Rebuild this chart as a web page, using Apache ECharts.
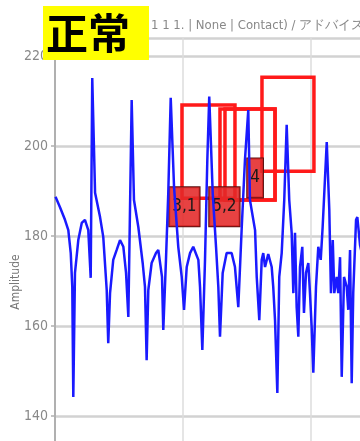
<!DOCTYPE html>
<html>
<head>
<meta charset="utf-8">
<script src="https://cdn.jsdelivr.net/npm/echarts@6/dist/echarts.min.js"></script>
<style>
html,body{margin:0;padding:0;background:#fff;}
#c{width:360px;height:441px;}
</style>
</head>
<body>
<div id="c"></div>
<script>
// signal samples (time in s, amplitude)
const sigX = [0.004,0.039,0.078,0.104,0.123,0.135,0.143,0.156,0.182,0.209,0.234,0.260,0.279,0.291,0.313,0.352,0.377,0.404,0.416,0.430,0.455,0.482,0.508,0.534,0.555,0.573,0.599,0.617,0.651,0.685,0.703,0.716,0.729,0.755,0.789,0.807,0.836,0.846,0.867,0.885,0.904,0.930,0.963,0.990,1.008,1.029,1.055,1.080,1.120,1.133,1.151,1.172,1.190,1.205,1.232,1.258,1.276,1.289,1.310,1.341,1.380,1.406,1.432,1.459,1.484,1.510,1.523,1.563,1.576,1.596,1.615,1.627,1.641,1.666,1.693,1.705,1.719,1.737,1.752,1.771,1.791,1.810,1.830,1.849,1.862,1.875,1.888,1.901,1.914,1.932,1.945,1.961,1.979,1.992,2.005,2.018,2.039,2.057,2.076,2.091,2.123,2.143,2.156,2.170,2.182,2.201,2.213,2.227,2.240,2.258,2.279,2.291,2.305,2.318,2.330,2.352,2.362,2.383,2.430];
const sigY = [188.7,186.4,183.6,181.3,176.2,168.7,144.2,171.8,179.1,182.9,183.6,181.3,170.7,215.1,189.6,184.2,179.8,168.0,156.2,167.3,174.7,176.9,179.1,177.6,171.8,162.0,210.2,188.0,182.0,174.0,168.7,152.4,168.0,174.0,176.2,176.9,170.9,159.1,174.7,189.6,210.7,190.9,177.6,170.9,163.6,173.1,176.2,177.6,174.7,168.7,154.7,174.7,196.9,211.0,189.6,177.6,168.7,157.6,171.8,176.2,176.2,173.1,164.2,182.0,196.9,208.0,188.0,181.3,170.9,161.3,174.7,176.2,173.1,176.0,173.1,168.7,161.3,145.1,170.9,176.2,188.0,204.7,188.0,180.7,167.3,180.7,164.2,157.6,173.1,177.6,162.9,171.8,174.0,167.3,159.8,149.6,168.7,177.6,174.7,182.0,200.9,185.8,167.3,179.1,167.3,170.9,167.3,175.3,148.7,170.9,168.7,163.6,176.9,147.3,167.3,183.6,184.2,178.0,172.0];

// y ticks
const yTicks = [120,140,160,180,200,220];

// annotations (boxes)
const annoLabels = ['3,1','5,2','','4'];
const annoX0 = [0.992,1.289,1.328,1.617];
const annoX1 = [1.406,1.719,1.719,2.023];
const annoYTop = [209.1,208.2,208.2,215.3];
const annoYBot = [188.4,188.0,188.0,194.4];

const titleMain = '正常';
const titleSub = '1 1 1. | None | Contact) / アドバイス | En';

const chart = echarts.init(document.getElementById('c'));
const narrow = "'Liberation Sans Narrow','DejaVu Sans Condensed','Roboto Condensed',Roboto,sans-serif";

const labelOffsets = [[-11,84],[-9,80],[0,0],[-13,83]];
const areas = annoLabels.map((lab,i)=>[
  {coord:[annoX0[i],annoYTop[i]],
   label: lab ? {show:true, position: labelOffsets[i], align:'left', verticalAlign:'top', formatter: lab,
     color:'#1a1a1a', fontSize:17, fontFamily:narrow,
     backgroundColor:'rgba(228,40,40,0.88)', borderColor:'#5a1010', borderWidth:1,
     padding:[10,3,10,3], lineHeight:19} : {show:false}},
  {coord:[annoX1[i],annoYBot[i]]}
]);

chart.setOption({
  animation:false,
  title:[
    {text:titleSub, left:146, top:14, textStyle:{fontSize:13, color:'#888', fontWeight:'normal', fontFamily:narrow}},
    {text:titleMain, left:43, top:6, backgroundColor:'#ffff00', padding:[4,19,4,3],
     textStyle:{fontSize:42, color:'#000', fontWeight:'bold', fontFamily:"'Noto Sans CJK JP','Noto Sans CJK SC',sans-serif", lineHeight:46}}
  ],
  grid:{left:55, right:-79, top:38, bottom:-65, containLabel:false, outerBoundsMode:'none'},
  xAxis:{type:'value', min:0, max:3, interval:1,
    axisLine:{show:false}, axisTick:{show:false}, axisLabel:{show:false},
    splitLine:{show:true, lineStyle:{color:'#dcdcdc', width:1.5}}},
  yAxis:{type:'value', min:120, max:224, interval:20,
    name:'Amplitude', nameLocation:'middle', nameGap:33, nameMoveOverlap:false,
    nameTextStyle:{color:'#777', fontSize:12, fontFamily:narrow, padding:[0,20,0,0]},
    axisLine:{show:true, lineStyle:{color:'#b0b0b0', width:2}},
    axisTick:{show:true, length:4, lineStyle:{color:'#b0b0b0', width:1.5}},
    axisLabel:{margin:7, color:'#888', fontSize:14, fontFamily:narrow,
      formatter:v=> yTicks.indexOf(v)>=0 ? String(v) : ''},
    splitLine:{show:true, lineStyle:{color:'#d2d2d2', width:2.5}}},
  series:[{
    type:'line', data: sigX.map((x,i)=>[x,sigY[i]]),
    showSymbol:false, lineStyle:{color:'#1a1aff', width:2.5},
    markArea:{silent:true, itemStyle:{color:'rgba(0,0,0,0)', borderColor:'#ff1a1a', borderWidth:3.5},
      data: areas}
  }]
});
</script>
</body>
</html>
